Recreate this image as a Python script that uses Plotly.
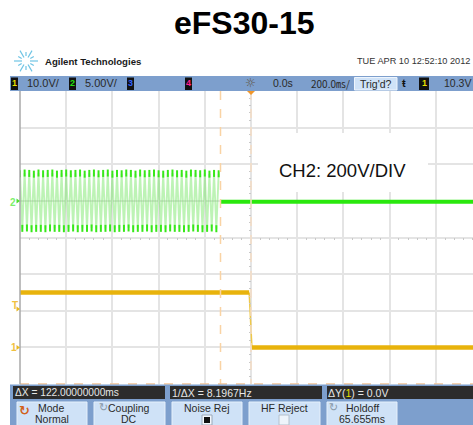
import math
import plotly.graph_objects as go

TITLE = "eFS30-15"
NOTE = "CH2: 200V/DIV"

# CH2 burst (ms, V at 200 V/div)
burst_t = [-1000,-990,-980,-970,-960,-950,-940,-930,-920,-910,-900,-890,-880,-870,-860,-850,-840,-830,-820,-810,
           -800,-790,-780,-770,-760,-750,-740,-730,-720,-710,-700,-690,-680,-670,-660,-650,-640,-630,-620,-610,
           -600,-590,-580,-570,-560,-550,-540,-530,-520,-510,-500,-490,-480,-470,-460,-450,-440,-430,-420,-410,
           -400,-390,-380,-370,-360,-350,-340,-330,-320,-310,-300,-290,-280,-270,-260,-250,-240,-230,-220,-210,
           -200,-190,-180,-170,-160,-150,-140]
burst_v = [148,-150,152,-148,150,-152,146,-150,152,-150,148,-152,150,-148,152,-150,146,-150,150,-152,
           152,-150,148,-148,150,-152,152,-150,146,-150,150,-148,152,-152,148,-150,150,-150,152,-148,
           146,-152,150,-150,148,-150,152,-148,150,-152,146,-150,152,-150,148,-148,150,-152,152,-150,
           148,-150,146,-152,150,-148,152,-150,148,-150,150,-152,146,-150,152,-148,150,-150,148,-152,
           152,-150,146,-148,150,-152,148]
ch2_after_t = [-134, 961]
ch2_after_v = [-5, -5]

# CH1 gate signal (ms, V at 10 V/div)
ch1_high_t = [-1000, -8]
ch1_high_v = [15, 15]
ch1_edge_t = [-8, 4]
ch1_edge_v = [15, 0]
ch1_low_t = [4, 961]
ch1_low_v = [0, 0]

L, R, T, B = 20, 473, 91, 384
X0, X1 = -1000, 961
def px(x): return (x - L) / (R - L)
def py(y): return (B - y) / (B - T)
def dx(x): return X0 + (x - L) / (R - L) * (X1 - X0)
def dy(y): return -10 + (B - y) / (B - T) * 80

shapes, ann = [], []
def rect(x0, y0, x1, y1, fill, line=None, lw=0, layer="above"):
    shapes.append(dict(type="rect", xref="paper", yref="paper", x0=px(x0), x1=px(x1), y0=py(y0), y1=py(y1),
                       fillcolor=fill, line=dict(color=line or fill, width=lw), layer=layer))
def seg(x0, y0, x1, y1, color, w=1, dash="solid", layer="above"):
    shapes.append(dict(type="line", xref="paper", yref="paper", x0=px(x0), x1=px(x1), y0=py(y0), y1=py(y1),
                       line=dict(color=color, width=w, dash=dash), layer=layer))
def text(x, y, s, size=10, color="#2a2a2a", anchor="center", font="Liberation Sans", bold=False):
    if bold: s = f"<b>{s}</b>"
    ann.append(dict(xref="paper", yref="paper", x=px(x), y=py(y), text=s, showarrow=False, xanchor=anchor, yanchor="middle",
                    font=dict(size=size, color=color, family=font), borderpad=0, borderwidth=0))

# white patch behind the CH2 note (covers graticule, below traces)
shapes.append(dict(type="rect", xref="x", yref="y", x0=dx(258), x1=dx(428), y0=dy(192), y1=dy(133),
                   fillcolor="white", line=dict(width=0), layer="between"))

# cursors
seg(220.5, T, 220.5, B, "#f9d3a4", 1.5, "dash")
seg(251, T, 251, B, "#f4dcc4", 1.5, "dash")
seg(20, 384, 473, 384, "#f2c496", 1.5, "dash")

# left edge
seg(20, T, 20, B, "#a9a9a9", 1.5)

# header
rect(10, 76, 473, 91, "#7d9fcd")
for x, hw, col, lab in [(14.5, 3.5, "#e8e000", "1"), (72.5, 3.5, "#22e010", "2"), (130.5, 3.5, "#3060ff", "3"),
                        (188.5, 3.5, "#ff2090", "4"), (424, 5, "#e8e000", "1")]:
    rect(x - hw, 77.5, x + hw, 90, "#111111")
    text(x, 83.5, lab, 9, col, bold=True)
text(43, 83.5, "10.0V/", 11)
text(101, 83.5, "5.00V/", 11)
text(250, 83.5, "☼", 12, "#5d5340", font="DejaVu Sans")
text(283, 83.5, "0.0s", 10.5)
text(330, 83.5, "200.0㎳/", 10, font="Noto Sans CJK SC")
rect(354.5, 77.5, 397, 90, "#cfe2f7", "#eef5fd", 1)
text(376, 84, "Trig'd?", 10.5)
text(404, 83.5, "ŧ", 11, "#111111", bold=True)
text(457, 83.5, "10.3V", 10.5)
shapes.append(dict(type="path", xref="paper", yref="paper",
                   path=f"M {px(247)} {py(91)} L {px(255)} {py(91)} L {px(251)} {py(95)} Z",
                   fillcolor="#f0962a", line=dict(width=0)))

# logo
for k in range(12):
    a = k * math.pi / 6
    r0, r1 = (5, 9) if k % 2 else (4, 12)
    seg(26 + r0 * math.cos(a), 61 + r0 * math.sin(a), 26 + r1 * math.cos(a), 61 + r1 * math.sin(a), "#6fc4e4", 1.2)
text(45, 61.5, "Agilent Technologies", 9.6, "#1a1a1a", "left", bold=True)
text(470, 61.5, "TUE APR 10 12:52:10 2012", 9.2, "#333333", "right")

# footer
rect(10, 384.5, 473, 425, "#7d9fcd")
for x0, x1 in [(13, 165), (170, 322), (327, 473)]:
    rect(x0, 386, x1, 399, "#2c2c2c")
text(15, 392.5, "ΔX = 122.00000000ms", 10.2, "#e6e6e6", "left")
text(172, 392.5, "1/ΔX = 8.1967Hz", 10.5, "#e6e6e6", "left")
text(328, 392.5, "ΔY(<span style='color:#e8e000'>1</span>) = 0.0V", 10.5, "#e6e6e6", "left")
for x0, x1 in [(17, 87), (94, 165), (172, 242), (249, 320), (327, 397)]:
    rect(x0, 402, x1, 426, "#cfe2f7", "#e6f0fb", 1)
text(51, 408, "Mode", 10.5); text(52, 419, "Normal", 10.5)
text(129, 408, "Coupling", 10.5); text(129, 419, "DC", 10.5)
text(207, 408, "Noise Rej", 10.5); text(284, 408, "HF Reject", 10.5)
text(362, 408, "Holdoff", 10.5); text(362, 419, "65.655ms", 10.5)
text(24, 410, "↻", 13, "#d2601a", font="DejaVu Sans", bold=True)
text(103, 408, "↻", 11, "#8a9aaa", font="DejaVu Sans")
text(333, 408, "↻", 11, "#8a9aaa", font="DejaVu Sans")
rect(202, 415, 212, 425, "#f4f8fd", "#9aa8b8", 1)
rect(204, 417, 210, 423, "#111111")
rect(279, 415, 289, 425, "#eef4fb", "#b4c0cc", 1)

# channel markers
text(13, 202, "2", 10, "#7df06a", bold=True)
text(15, 305, "T", 10, "#f0c040", bold=True)
text(14, 347, "1", 10, "#f0c040", bold=True)
for y, col in [(201, "#50e030"), (309, "#e8b820"), (347.5, "#e8b820")]:
    shapes.append(dict(type="path", xref="paper", yref="paper",
                       path=f"M {px(16.5)} {py(y-2.5)} L {px(20)} {py(y)} L {px(16.5)} {py(y+2.5)} Z",
                       fillcolor=col, line=dict(width=0)))

text(244, 23, TITLE, 32, "#000000", bold=True)
text(342.5, 170, NOTE, 18.5, "#111111")

fig = go.Figure()
fig.add_trace(go.Scatter(x=burst_t, y=burst_v, yaxis="y2", mode="lines", line=dict(color="rgba(90,225,70,0.40)", width=1.9)))
fig.add_trace(go.Scatter(x=burst_t, y=burst_v, yaxis="y2", mode="markers",
                         marker=dict(color="#38e81a", size=5, symbol="line-ns", line=dict(width=2, color="#38e81a"))))
fig.add_trace(go.Scatter(x=ch2_after_t, y=ch2_after_v, yaxis="y2", mode="lines", line=dict(color="#2ae80e", width=4)))
fig.add_trace(go.Scatter(x=ch1_edge_t, y=ch1_edge_v, mode="lines", line=dict(color="#eec84a", width=1.5)))
fig.add_trace(go.Scatter(x=ch1_high_t, y=ch1_high_v, mode="lines", line=dict(color="#e8b30c", width=4.5)))
fig.add_trace(go.Scatter(x=ch1_low_t, y=ch1_low_v, mode="lines", line=dict(color="#e8b30c", width=4.5)))

fig.update_layout(
    width=473, height=425, autosize=False, showlegend=False,
    margin=dict(l=L, r=0, t=T, b=425 - B),
    paper_bgcolor="white", plot_bgcolor="white",
    shapes=shapes, annotations=ann,
    xaxis=dict(range=[X0, X1], tick0=0, dtick=200, showgrid=True, gridcolor="#e4e4e4", gridwidth=1.5,
               zeroline=False, showticklabels=False, showline=False, anchor="free", position=py(237),
               ticks="", minor=dict(dtick=40, tick0=0, ticks="outside", ticklen=2, tickcolor="#c8c8c8", tickwidth=1, showgrid=False)),
    yaxis=dict(range=[-10, 70], tick0=-10, dtick=10, showgrid=True, gridcolor="#e4e4e4", gridwidth=1.5,
               zeroline=False, showticklabels=False, showline=False, anchor="free", position=px(251),
               ticks="", minor=dict(dtick=2, tick0=-10, ticks="outside", ticklen=2, tickcolor="#c8c8c8", tickwidth=1, showgrid=False)),
    yaxis2=dict(range=[-1000, 600], overlaying="y", showgrid=False, zeroline=False, showticklabels=False, visible=False),
)
fig.write_html("out.html", config=dict(displayModeBar=False),
               post_script="document.body.style.margin='0';document.body.style.overflow='hidden';")
